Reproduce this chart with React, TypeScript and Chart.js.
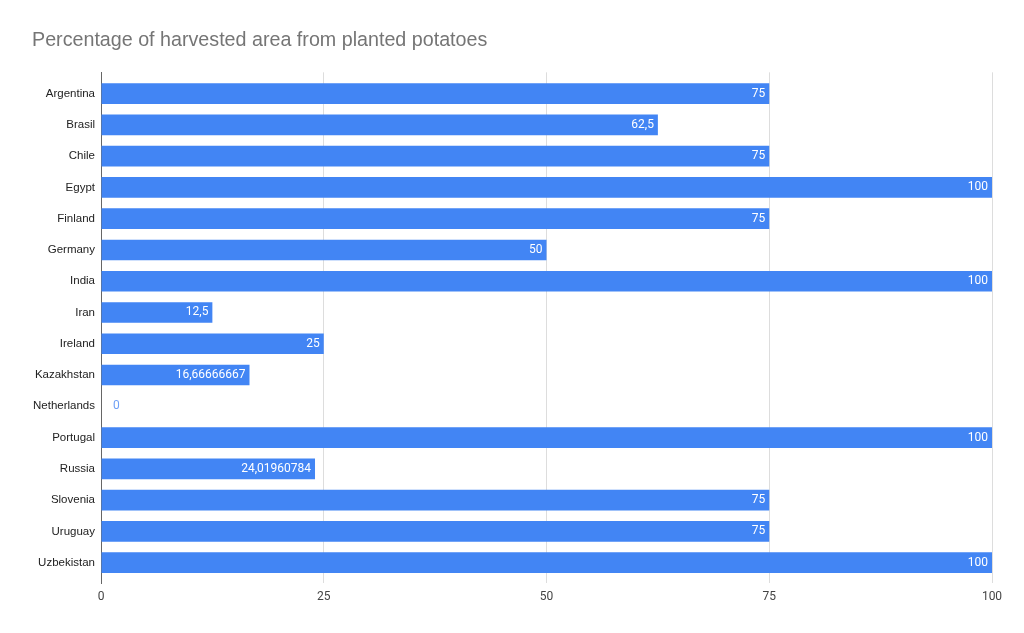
import React, { useEffect, useRef } from "react";
import { Chart, registerables } from "chart.js";

Chart.register(...registerables);

const TITLE = "Percentage of harvested area from planted potatoes";

const categories: string[] = [
  "Argentina",
  "Brasil",
  "Chile",
  "Egypt",
  "Finland",
  "Germany",
  "India",
  "Iran",
  "Ireland",
  "Kazakhstan",
  "Netherlands",
  "Portugal",
  "Russia",
  "Slovenia",
  "Uruguay",
  "Uzbekistan",
];

const values: number[] = [
  75, 62.5, 75, 100, 75, 50, 100, 12.5, 25, 16.66666667, 0, 100, 24.01960784, 75, 75, 100,
];

const xTicks: number[] = [0, 25, 50, 75, 100];

const ARIAL = "'Liberation Sans', Arial, sans-serif";
const ROBOTO = "Roboto, 'Noto Sans', Arial, sans-serif";
const BAR_COLOR = "#4285f4";

const fmt = (v: number) => String(v).replace(".", ",");

const labelPlugin = {
  id: "barLabels",
  afterDatasetsDraw(chart: any) {
    const ctx = chart.ctx;
    const meta = chart.getDatasetMeta(0);
    ctx.save();
    ctx.font = `12px ${ROBOTO}`;
    ctx.textBaseline = "middle";
    meta.data.forEach((el: any, i: number) => {
      const v = values[i];
      const text = fmt(v);
      if (v > 0) {
        ctx.fillStyle = "#ffffff";
        ctx.textAlign = "right";
        ctx.fillText(text, el.x - 4, el.y);
      } else {
        ctx.fillStyle = "#6fa0f6";
        ctx.textAlign = "left";
        ctx.fillText(text, el.x + 12, el.y);
      }
    });
    ctx.restore();
  },
};

export default function App() {
  const ref = useRef<HTMLCanvasElement | null>(null);

  useEffect(() => {
    if (!ref.current) return;
    const chart = new Chart(ref.current, {
      type: "bar",
      data: {
        datasets: [
          {
            data: values.map((v, i) => ({ x: v, y: i })),
            backgroundColor: BAR_COLOR,
            borderWidth: 0,
            barPercentage: 0.66,
            categoryPercentage: 1,
          },
        ],
      },
      options: {
        indexAxis: "y",
        responsive: false,
        animation: false,
        layout: { padding: { left: 32, right: 32, top: 0, bottom: 9.7 } },
        plugins: {
          legend: { display: false },
          tooltip: { enabled: false },
          title: {
            display: true,
            text: TITLE,
            align: "start",
            color: "#757575",
            font: { family: ARIAL, size: 19.7, weight: "normal" },
            padding: { top: 29.2, bottom: 19.5 },
          },
        },
        scales: {
          x: {
            type: "linear",
            min: 0,
            max: 100,
            afterBuildTicks: (scale: any) => {
              scale.ticks = xTicks.map((v) => ({ value: v }));
            },
            afterFit: (scale: any) => {
              scale.height = 40;
            },
            grid: {
              drawTicks: false,
              color: (c: any) => (c.tick && c.tick.value === 0 ? "rgba(0,0,0,0)" : "#dddddd"),
              lineWidth: 1,
            },
            border: { display: false },
            ticks: {
              padding: 6,
              color: "#444444",
              font: { family: ROBOTO, size: 12 },
            },
          },
          y: {
            type: "linear",
            reverse: true,
            offset: false,
            min: -0.68,
            max: 15.66,
            afterFit: (scale: any) => {
              scale.width = 69;
            },
            grid: { display: false, drawTicks: false, offset: false },
            border: { display: true, color: "#666666", width: 1 },
            ticks: {
              stepSize: 1,
              includeBounds: false,
              autoSkip: false,
              padding: 6,
              color: "#222222",
              font: { family: ARIAL, size: 11.5 },
              callback: (v: any) => (Number.isInteger(v) ? categories[v] ?? "" : ""),
            },
          },
        },
      } as any,
      plugins: [labelPlugin],
    });
    return () => chart.destroy();
  }, []);

  return (
    <div style={{ position: "absolute", left: 0, top: 0, width: 1024, height: 633, background: "#fff" }}>
      <canvas ref={ref} width={1024} height={633} style={{ width: 1024, height: 633 }} />
    </div>
  );
}
